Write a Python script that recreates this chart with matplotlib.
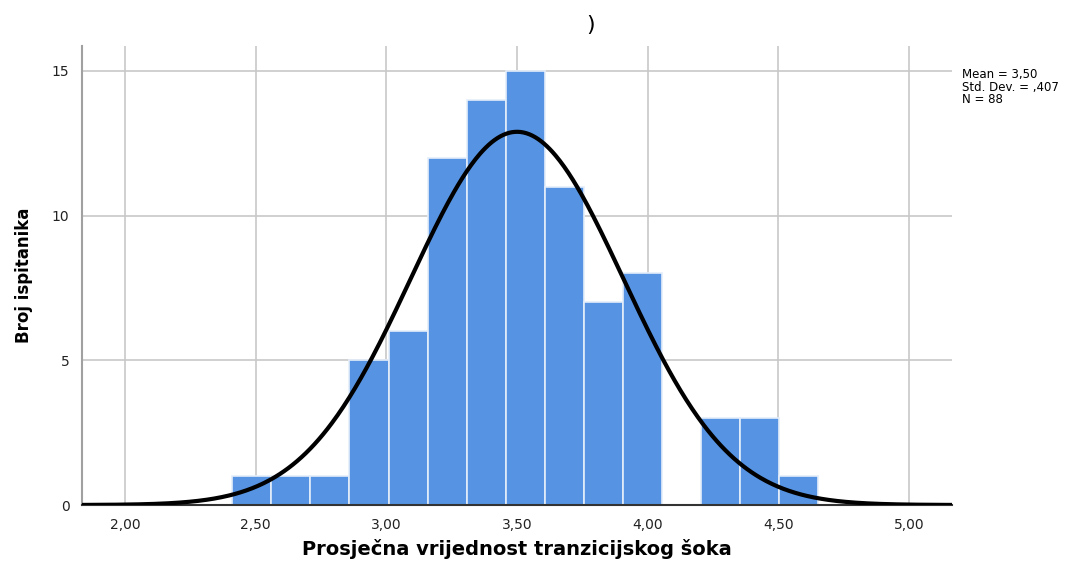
import numpy as np
import matplotlib
matplotlib.use("Agg")
import matplotlib.pyplot as plt

# Data
bin_start = 2.41
bin_width = 0.1495
counts = [1, 1, 1, 5, 6, 12, 14, 15, 11, 7, 8, 0, 3, 3, 1]
mean, sd, n = 3.50, 0.407, 88
xticks = [2.0, 2.5, 3.0, 3.5, 4.0, 4.5, 5.0]
xticklabels = ["2,00", "2,50", "3,00", "3,50", "4,00", "4,50", "5,00"]
yticks = [0, 5, 10, 15]
stats_text = "Mean = 3,50\nStd. Dev. = ,407\nN = 88"

plt.rcParams['font.family'] = ['DejaVu Sans']

fig = plt.figure(figsize=(10.81, 5.61), dpi=100)
ax = fig.add_axes([0.0759, 0.0998, 0.8048, 0.8182])

edges = bin_start + bin_width * np.arange(len(counts) + 1)
ax.bar(edges[:-1], counts, width=bin_width, align='edge', color='#5694E3',
       edgecolor='#E4EDFA', linewidth=1.2, zorder=2)

xs = np.linspace(1.835, 5.165, 600)
ys = n * bin_width / (sd * np.sqrt(2 * np.pi)) * np.exp(-0.5 * ((xs - mean) / sd) ** 2)
ax.plot(xs, ys, color='black', linewidth=3, zorder=3, solid_capstyle='butt')

ax.set_xlim(1.835, 5.165)
ax.set_ylim(0, 15.86)
ax.set_xticks(xticks)
ax.set_xticklabels(xticklabels)
ax.set_yticks(yticks)
ax.tick_params(length=0, labelsize=10, pad=9, labelcolor='#222222')
ax.grid(True, color='#C8C8C8', linewidth=1.2, zorder=0)
ax.set_axisbelow(True)
for s in ['top', 'right']:
    ax.spines[s].set_visible(False)
ax.spines['left'].set_color('#A0A0A0')
ax.spines['left'].set_linewidth(1.5)
ax.spines['bottom'].set_color('#333333')
ax.spines['bottom'].set_linewidth(1.5)

ax.set_xlabel("Prosječna vrijednost tranzicijskog šoka", fontsize=14,
              fontweight='bold', va='center')
ax.xaxis.set_label_coords(0.5, -0.0959)
ax.set_ylabel("Broj ispitanika", fontsize=12, fontweight='bold')
ax.yaxis.set_label_coords(-0.056, 0.5)

fig.text(0.890, 0.878, stats_text, fontsize=8.5, va='top', ha='left', linespacing=0.95)
fig.text(0.546, 0.955, ")", fontsize=16, ha='center', va='center')

fig.savefig("out.png", dpi=100)
